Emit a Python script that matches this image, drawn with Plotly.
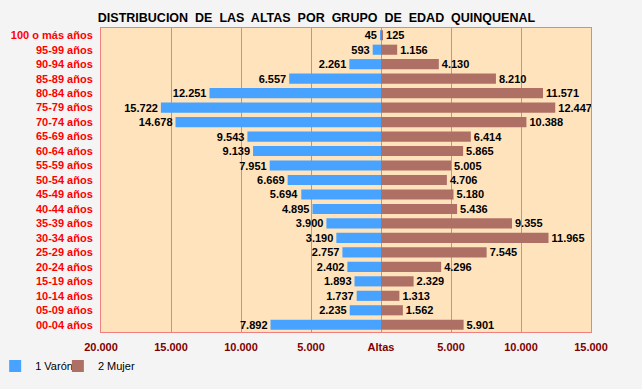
import plotly.graph_objects as go

grupos = ["100 o más años", "95-99 años", "90-94 años", "85-89 años", "80-84 años",
          "75-79 años", "70-74 años", "65-69 años", "60-64 años", "55-59 años",
          "50-54 años", "45-49 años", "40-44 años", "35-39 años", "30-34 años",
          "25-29 años", "20-24 años", "15-19 años", "10-14 años", "05-09 años",
          "00-04 años"]
varon = [45, 593, 2261, 6557, 12251, 15722, 14678, 9543, 9139, 7951,
         6669, 5694, 4895, 3900, 3190, 2757, 2402, 1893, 1737, 2235, 7892]
mujer = [125, 1156, 4130, 8210, 11571, 12447, 10388, 6414, 5865, 5005,
         4706, 5180, 5436, 9355, 11965, 7545, 4296, 2329, 1313, 1562, 5901]
tick_vals = [-20000, -15000, -10000, -5000, 0, 5000, 10000, 15000]
tick_text = ["20.000", "15.000", "10.000", "5.000", "Altas", "5.000", "10.000", "15.000"]


def fmt(v):
    return f"{v:,}".replace(",", ".")


FONT = "Liberation Sans, Arial, sans-serif"
label_font = dict(family=FONT, size=11, color="black", weight="bold")

fig = go.Figure()
fig.add_trace(go.Bar(
    y=grupos, x=[-v for v in varon], orientation="h", name="1 Varón",
    marker=dict(color="#47a3ff", line_width=0), width=0.7,
    text=[fmt(v) for v in varon], textposition="outside", textfont=label_font,
    constraintext="none", cliponaxis=False, hoverinfo="skip", legend="legend"))
fig.add_trace(go.Bar(
    y=grupos, x=mujer, orientation="h", name="2 Mujer",
    marker=dict(color="#ae7065", line_width=0), width=0.7,
    text=[fmt(v) for v in mujer], textposition="outside", textfont=label_font,
    constraintext="none", cliponaxis=False, hoverinfo="skip", legend="legend2"))

# legends placed below the plot, one per series, to get the tight spacing
legend_style = dict(orientation="h", xref="paper", yref="paper",
                    y=-0.112, xanchor="left", yanchor="middle",
                    font=dict(family=FONT, size=11, color="black"),
                    bgcolor="rgba(0,0,0,0)")

fig.update_layout(
    width=642, height=389,
    barmode="overlay",
    paper_bgcolor="#f4f4f4",
    plot_bgcolor="#ffe3bd",
    margin=dict(l=101, r=51, t=28, b=57, autoexpand=False),
    title=dict(text="DISTRIBUCION  DE  LAS  ALTAS  POR  GRUPO  DE  EDAD  QUINQUENAL",
               x=0.493, xanchor="center", y=0.955, yanchor="middle",
               font=dict(family=FONT, size=12.5, color="black", weight="bold")),
    showlegend=True,
    legend=dict(legend_style, x=-0.216),
    legend2=dict(legend_style, x=-0.088),
    xaxis=dict(range=[-20000, 15000], tickvals=tick_vals, ticktext=tick_text,
               showgrid=True, gridcolor="#f08080", gridwidth=1,
               zeroline=True, zerolinecolor="#f08080", zerolinewidth=1,
               showline=True, linecolor="#f08080", mirror=True,
               ticks="", ticklen=0, ticklabelstandoff=5,
               tickfont=dict(family=FONT, size=11, color="#800000", weight="bold")),
    yaxis=dict(autorange="reversed", showgrid=False,
               showline=True, linecolor="#f08080", mirror=True,
               ticks="", ticklen=0, ticklabelstandoff=5,
               tickfont=dict(family=FONT, size=11, color="#ff0000", weight="bold")),
)

fig.write_html("out.html", config={"displayModeBar": False},
               post_script="document.body.style.margin='0';")
